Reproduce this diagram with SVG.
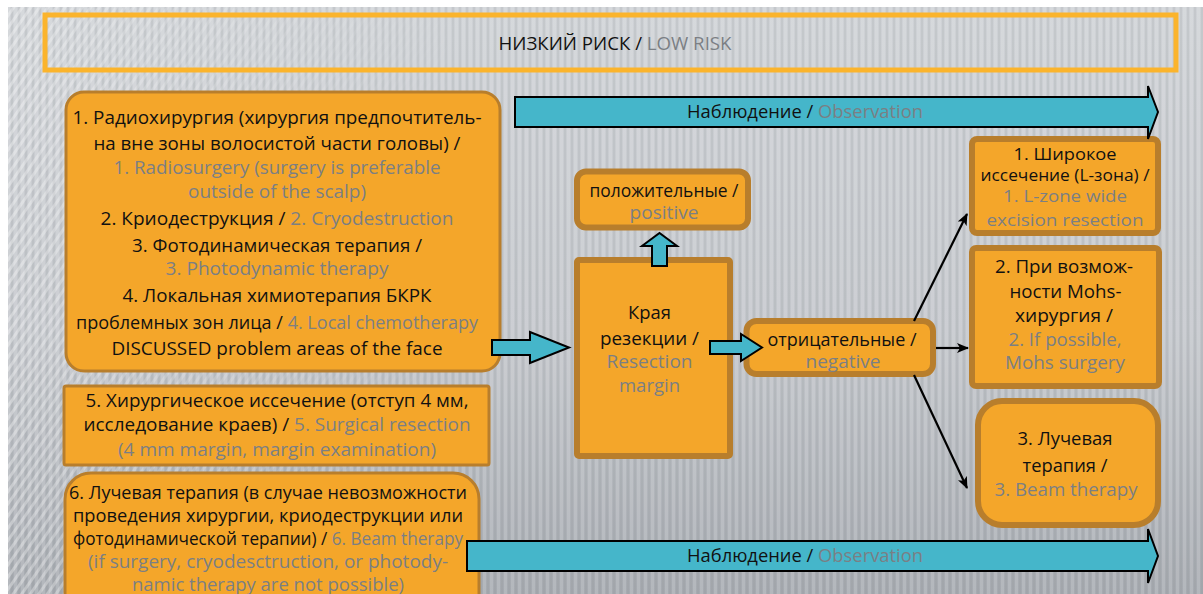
<svg xmlns="http://www.w3.org/2000/svg" width="1203" height="594" viewBox="0 0 1203 594">
  <defs>
    <linearGradient id="bg" x1="0" y1="0" x2="0" y2="1">
      <stop offset="0" stop-color="#cfd2d6"/>
      <stop offset="0.55" stop-color="#c3c6cb"/>
      <stop offset="1" stop-color="#a6aab0"/>
    </linearGradient>
    <pattern id="vstripes" width="7" height="20" patternUnits="userSpaceOnUse">
      <rect x="0" y="0" width="3" height="20" fill="#ffffff" opacity="0.15"/>
      <rect x="4" y="0" width="2" height="20" fill="#7d8288" opacity="0.12"/>
    </pattern>
    <pattern id="dstripes" width="7" height="7" patternUnits="userSpaceOnUse" patternTransform="rotate(35)">
      <rect x="0" y="0" width="3" height="7" fill="#ffffff" opacity="0.35"/>
    </pattern>
    <linearGradient id="fadeLeft" x1="0" y1="0" x2="1" y2="0">
      <stop offset="0" stop-color="#fff" stop-opacity="1"/>
      <stop offset="0.12" stop-color="#fff" stop-opacity="0.6"/>
      <stop offset="0.4" stop-color="#fff" stop-opacity="0"/>
    </linearGradient>
    <mask id="leftMask">
      <rect x="0" y="0" width="1203" height="594" fill="url(#fadeLeft)"/>
    </mask>
    <marker id="head" viewBox="0 0 12 10" refX="11" refY="5" markerWidth="12" markerHeight="10" markerUnits="userSpaceOnUse" orient="auto">
      <path d="M0,0 L12,5 L0,10 L3,5 Z" fill="#000"/>
    </marker>
    <style>
      text { font-family: "Open Sans", "Noto Sans", "Liberation Sans", sans-serif; fill: #111; text-anchor: middle; }
      .big { font-size: 18.7px; }
      .b6 { font-size: 18px; }
      .mid { font-size: 18px; }
      .sm { font-size: 17px; }
      .en { fill: #7b7f84; }
      .box { fill: #f4a62a; stroke: #b87e2c; }
      .thin { stroke-width: 3; }
      .thick { stroke-width: 6; }
      .teal { fill: #45b6ca; stroke: #000; stroke-width: 2; stroke-linejoin: miter; }
      .line { stroke: #000; stroke-width: 2.2; fill: none; marker-end: url(#head); }
    </style>
  </defs>

  <!-- backdrop -->
  <rect x="0" y="0" width="1203" height="594" fill="#ffffff"/>
  <rect x="8" y="7" width="1195" height="587" fill="url(#bg)"/>
  <rect x="8" y="7" width="1195" height="587" fill="url(#vstripes)"/>
  <rect x="8" y="7" width="1195" height="587" fill="url(#dstripes)" mask="url(#leftMask)"/>

  <!-- header -->
  <g id="header">
    <rect x="45" y="15" width="1131" height="55" fill="none" stroke="#fbb42c" stroke-width="5"/>
    <text x="615" y="50" style="font-size:18px" textLength="233" lengthAdjust="spacingAndGlyphs">НИЗКИЙ РИСК / <tspan class="en">LOW RISK</tspan></text>
  </g>

  <!-- left column -->
  <g id="methods">
    <rect class="box thin" x="66" y="92" width="434" height="279" rx="18"/>
    <text class="big" x="277" y="124" textLength="409" lengthAdjust="spacingAndGlyphs">1. Радиохирургия (хирургия предпочтитель-</text>
    <text class="big" x="277" y="150" textLength="367" lengthAdjust="spacingAndGlyphs">на вне зоны волосистой части головы) /</text>
    <text class="big en" x="277" y="174" textLength="327" lengthAdjust="spacingAndGlyphs">1. Radiosurgery (surgery is preferable</text>
    <text class="big en" x="277" y="198" textLength="178" lengthAdjust="spacingAndGlyphs">outside of the scalp)</text>
    <text class="big" x="277" y="225" textLength="353" lengthAdjust="spacingAndGlyphs">2. Криодеструкция / <tspan class="en">2. Cryodestruction</tspan></text>
    <text class="big" x="277" y="252" textLength="290" lengthAdjust="spacingAndGlyphs">3. Фотодинамическая терапия /</text>
    <text class="big en" x="277" y="275" textLength="223" lengthAdjust="spacingAndGlyphs">3. Photodynamic therapy</text>
    <text class="big" x="277" y="302" textLength="309" lengthAdjust="spacingAndGlyphs">4. Локальная химиотерапия БКРК</text>
    <text class="big" x="277" y="329" textLength="402" lengthAdjust="spacingAndGlyphs">проблемных зон лица / <tspan class="en">4. Local chemotherapy</tspan></text>
    <text class="big" x="277" y="355" textLength="331" lengthAdjust="spacingAndGlyphs">DISCUSSED problem areas of the face</text>
  </g>

  <g id="surgery">
    <rect class="box thin" x="64" y="386" width="425" height="79" rx="2"/>
    <text class="big" x="277" y="407" textLength="383" lengthAdjust="spacingAndGlyphs">5. Хирургическое иссечение (отступ 4 мм,</text>
    <text class="big" x="277" y="431" textLength="387" lengthAdjust="spacingAndGlyphs">исследование краев) / <tspan class="en">5. Surgical resection</tspan></text>
    <text class="big en" x="277" y="456" textLength="318" lengthAdjust="spacingAndGlyphs">(4 mm margin, margin examination)</text>
  </g>

  <g id="beam">
    <rect class="box thin" x="65" y="473" width="414" height="150" rx="26"/>
    <text class="b6" x="268" y="499" textLength="398" lengthAdjust="spacingAndGlyphs">6. Лучевая терапия (в случае невозможности</text>
    <text class="b6" x="268" y="522" textLength="390" lengthAdjust="spacingAndGlyphs">проведения хирургии, криодеструкции или</text>
    <text class="b6" x="268" y="545" textLength="390" lengthAdjust="spacingAndGlyphs">фотодинамической терапии) / <tspan class="en">6. Beam therapy</tspan></text>
    <text class="b6 en" x="268" y="568" textLength="360" lengthAdjust="spacingAndGlyphs">(if surgery, cryodesctruction, or photody-</text>
    <text class="b6 en" x="268" y="591" textLength="272" lengthAdjust="spacingAndGlyphs">namic therapy are not possible)</text>
  </g>

  <!-- middle column -->
  <g id="positive">
    <rect class="box thick" x="577" y="171.5" width="171" height="56" rx="9"/>
    <text class="mid" x="664" y="197" textLength="149" lengthAdjust="spacingAndGlyphs">положительные /</text>
    <text class="mid en" x="664" y="219" textLength="69" lengthAdjust="spacingAndGlyphs">positive</text>
  </g>

  <g id="margin">
    <rect class="box thick" x="577" y="260" width="153" height="196" rx="2"/>
    <text class="mid" x="649.5" y="319" textLength="43" lengthAdjust="spacingAndGlyphs">Края</text>
    <text class="mid" x="649.5" y="345" textLength="99" lengthAdjust="spacingAndGlyphs">резекции /</text>
    <text class="mid en" x="649.5" y="368" textLength="86" lengthAdjust="spacingAndGlyphs">Resection</text>
    <text class="mid en" x="649.5" y="392" textLength="61" lengthAdjust="spacingAndGlyphs">margin</text>
  </g>

  <g id="negative">
    <rect class="box thick" x="746.5" y="321" width="186.5" height="53" rx="10"/>
    <text class="mid" x="842" y="346" textLength="149" lengthAdjust="spacingAndGlyphs">отрицательные /</text>
    <text class="mid en" x="843" y="368" textLength="75" lengthAdjust="spacingAndGlyphs">negative</text>
  </g>

  <!-- right column -->
  <g id="wide-excision">
    <rect class="box thick" x="972" y="139" width="186" height="94" rx="5"/>
    <text class="sm" x="1065" y="160" textLength="103" lengthAdjust="spacingAndGlyphs">1. Широкое</text>
    <text class="sm" x="1065" y="181" textLength="169" lengthAdjust="spacingAndGlyphs">иссечение (L-зона) /</text>
    <text class="sm en" x="1065" y="202" textLength="124" lengthAdjust="spacingAndGlyphs">1. L-zone wide</text>
    <text class="sm en" x="1065" y="226" textLength="157" lengthAdjust="spacingAndGlyphs">excision resection</text>
  </g>

  <g id="mohs">
    <rect class="box thick" x="972" y="248" width="187" height="138" rx="4"/>
    <text class="mid" x="1064" y="273" textLength="138" lengthAdjust="spacingAndGlyphs">2. При возмож-</text>
    <text class="mid" x="1065.5" y="298" textLength="112" lengthAdjust="spacingAndGlyphs">ности Mohs-</text>
    <text class="mid" x="1064" y="322" textLength="98" lengthAdjust="spacingAndGlyphs">хирургия /</text>
    <text class="mid en" x="1065" y="346" textLength="113" lengthAdjust="spacingAndGlyphs">2. If possible,</text>
    <text class="mid en" x="1065" y="369" textLength="120" lengthAdjust="spacingAndGlyphs">Mohs surgery</text>
  </g>

  <g id="radiation">
    <rect class="box thick" x="978" y="401" width="180" height="124" rx="24"/>
    <text class="mid" x="1065" y="445" textLength="95" lengthAdjust="spacingAndGlyphs">3. Лучевая</text>
    <text class="mid" x="1065" y="472" textLength="85" lengthAdjust="spacingAndGlyphs">терапия /</text>
    <text class="mid en" x="1066" y="496" textLength="143" lengthAdjust="spacingAndGlyphs">3. Beam therapy</text>
  </g>

  <!-- connectors -->
  <g id="connectors">
    <!-- observation bars -->
    <path class="teal" d="M515,97 H1148 V86 L1158,112 L1148,139 V127 H515 Z"/>
    <path class="teal" d="M467,541 H1148 V529 L1158,556 L1148,583 V571 H467 Z"/>
    <!-- block arrows -->
    <path class="teal" d="M492,340 H530 V332 L569,347.5 L530,363 V355 H492 Z"/>
    <path class="teal" d="M710,341 H741 V334 L762,347.5 L741,361 V354 H710 Z"/>
    <path class="teal" d="M652,266 V246 H642 L659.5,233 L677,246 H667 V266 Z"/>
    <!-- branches from the negative margin -->
    <line class="line" x1="914" y1="321" x2="967" y2="214"/>
    <line class="line" x1="936" y1="348" x2="968" y2="348"/>
    <line class="line" x1="914" y1="375" x2="967" y2="488"/>
  </g>

  <g id="observation-labels">
    <text x="805" y="118" style="font-size:19px" textLength="236" lengthAdjust="spacingAndGlyphs">Наблюдение / <tspan class="en">Observation</tspan></text>
    <text x="805" y="562" style="font-size:19px" textLength="236" lengthAdjust="spacingAndGlyphs">Наблюдение / <tspan class="en">Observation</tspan></text>
  </g>
</svg>
